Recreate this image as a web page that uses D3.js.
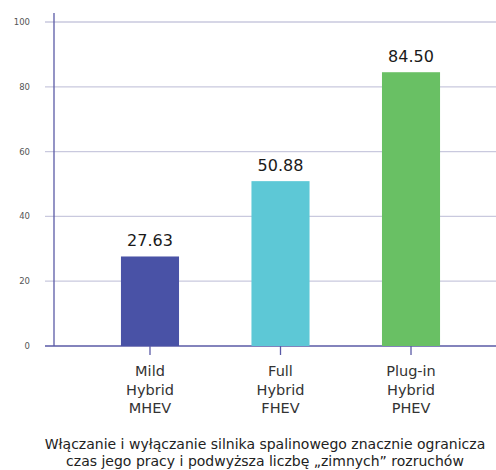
<!DOCTYPE html>
<html>
<head>
<meta charset="utf-8">
<script src="https://cdn.jsdelivr.net/npm/d3@7"></script>
<style>
  body { margin: 0; background: #fff; }
  svg { display: block; font-family: "DejaVu Sans", sans-serif; }
</style>
</head>
<body>
<div id="chart"></div>
<script>
// DATA
const categories = ["MHEV", "FHEV", "PHEV"];
const categoryLines = [["Mild", "Hybrid", "MHEV"], ["Full", "Hybrid", "FHEV"], ["Plug-in", "Hybrid", "PHEV"]];
const values = [27.63, 50.88, 84.50];
const barColors = ["#4952a6", "#5dc8d6", "#69c064"];
const yTicks = [0, 20, 40, 60, 80, 100];
const caption = ["Włączanie i wyłączanie silnika spalinowego znacznie ogranicza",
                 "czas jego pracy i podwyższa liczbę „zimnych” rozruchów"];

const width = 496, height = 470;

const svg = d3.select("#chart").append("svg")
  .attr("width", width)
  .attr("height", height);

// SCALES
const y = d3.scaleLinear([0, 100], [346, 22]);
const x = d3.scaleBand(categories, [54, 507])
  .paddingInner(0.555)
  .paddingOuter(0.513);

// GRIDLINES + Y LABELS
svg.append("g")
  .selectAll("line")
  .data(yTicks)
  .join("line")
  .attr("x1", 45)
  .attr("x2", width)
  .attr("y1", d => y(d))
  .attr("y2", d => y(d))
  .attr("stroke", d => d === 0 ? "#5a5aa6" : "#c9c9de")
  .attr("stroke-width", 1.3);

svg.append("g")
  .selectAll("text")
  .data(yTicks)
  .join("text")
  .attr("x", 30)
  .attr("y", d => y(d))
  .attr("dy", "0.35em")
  .attr("text-anchor", "end")
  .attr("font-size", 8.5)
  .attr("fill", "#555")
  .text(d => d);

// Y AXIS LINE
svg.append("line")
  .attr("x1", 54).attr("x2", 54)
  .attr("y1", 13).attr("y2", y(0))
  .attr("stroke", "#5a5aa6")
  .attr("stroke-width", 1.3);

// BARS
svg.append("g")
  .selectAll("rect")
  .data(values)
  .join("rect")
  .attr("x", (d, i) => x(categories[i]))
  .attr("y", d => y(d))
  .attr("width", x.bandwidth())
  .attr("height", d => y(0) - y(d))
  .attr("fill", (d, i) => barColors[i]);

// VALUE LABELS
svg.append("g")
  .selectAll("text")
  .data(values)
  .join("text")
  .attr("x", (d, i) => x(categories[i]) + x.bandwidth() / 2)
  .attr("y", d => y(d) - 10)
  .attr("text-anchor", "middle")
  .attr("font-size", 16)
  .attr("fill", "#1a1a1a")
  .text(d => d.toFixed(2));

// X TICKS + CATEGORY LABELS
svg.append("g")
  .selectAll("line")
  .data(categories)
  .join("line")
  .attr("x1", d => x(d) + x.bandwidth() / 2)
  .attr("x2", d => x(d) + x.bandwidth() / 2)
  .attr("y1", y(0))
  .attr("y2", y(0) + 9)
  .attr("stroke", "#5a5aa6")
  .attr("stroke-width", 1.3);

const cat = svg.append("g")
  .selectAll("text")
  .data(categories)
  .join("text")
  .attr("x", d => x(d) + x.bandwidth() / 2)
  .attr("y", 376)
  .attr("text-anchor", "middle")
  .attr("font-size", 14.5)
  .attr("fill", "#333");

cat.selectAll("tspan")
  .data((d, i) => categoryLines[i])
  .join("tspan")
  .attr("x", function () { return this.parentNode.getAttribute("x"); })
  .attr("dy", (d, i) => i === 0 ? 0 : 18.5)
  .text(d => d);

// CAPTION
svg.append("g")
  .selectAll("text")
  .data(caption)
  .join("text")
  .attr("x", 265)
  .attr("y", (d, i) => 449 + i * 17)
  .attr("text-anchor", "middle")
  .attr("font-size", 14)
  .attr("fill", "#222")
  .text(d => d);
</script>
</body>
</html>
